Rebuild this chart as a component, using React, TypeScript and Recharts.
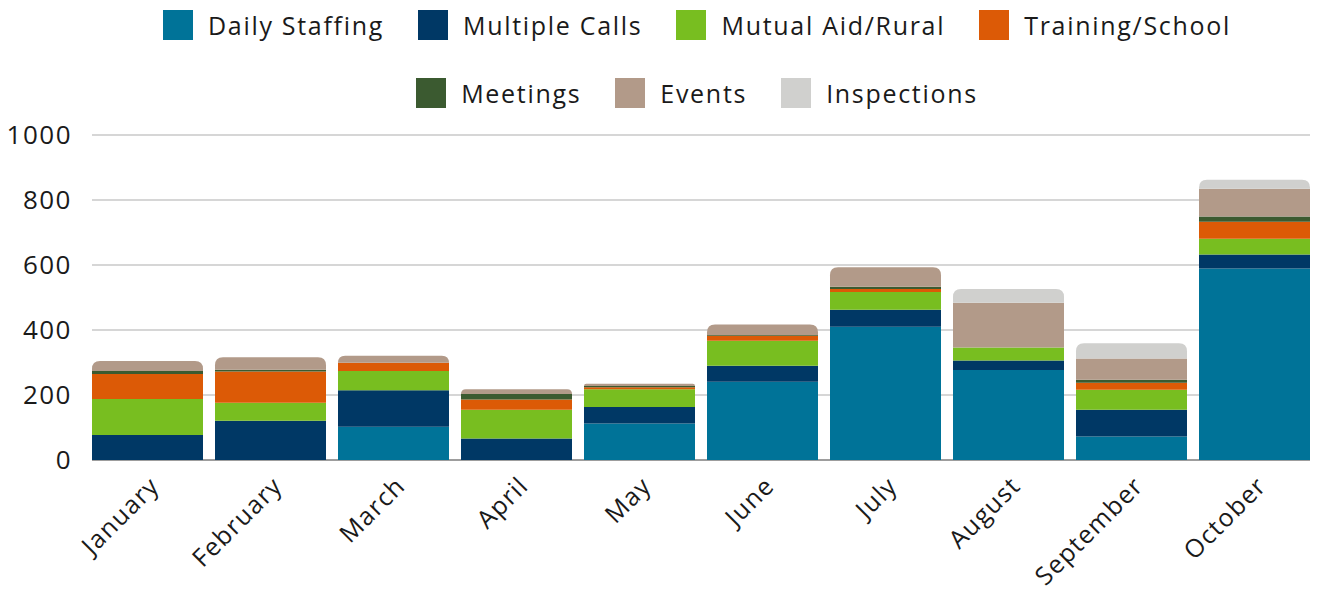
import React from 'react';
import { BarChart, Bar, XAxis, YAxis, CartesianGrid } from 'recharts';

const months = ['January', 'February', 'March', 'April', 'May', 'June', 'July', 'August', 'September', 'October'];

const dailyStaffing = [0, 0, 102, 0, 112, 241, 410, 277, 72, 589];
const multipleCalls = [77, 121, 113, 66, 51, 49, 52, 29, 83, 43];
const mutualAid = [111, 55, 59, 89, 55, 77, 55, 40, 61, 49];
const training = [77, 96, 25, 31, 6, 15, 9, 0, 22, 52];
const meetings = [9, 6, 0, 17, 4, 3, 7, 0, 9, 16];
const events = [31, 38, 22, 15, 7, 32, 60, 138, 65, 86];
const inspections = [0, 0, 0, 0, 0, 0, 0, 42, 47, 27];

const yTicks = [0, 200, 400, 600, 800, 1000];

const series = [
  { key: 'dailyStaffing', name: 'Daily Staffing', color: '#007398' },
  { key: 'multipleCalls', name: 'Multiple Calls', color: '#003865' },
  { key: 'mutualAid', name: 'Mutual Aid/Rural', color: '#78BE20' },
  { key: 'training', name: 'Training/School', color: '#DC5A06' },
  { key: 'meetings', name: 'Meetings', color: '#3B5A30' },
  { key: 'events', name: 'Events', color: '#B29A89' },
  { key: 'inspections', name: 'Inspections', color: '#D0D0CE' },
];

const data = months.map((month, i) => ({
  month,
  dailyStaffing: dailyStaffing[i],
  multipleCalls: multipleCalls[i],
  mutualAid: mutualAid[i],
  training: training[i],
  meetings: meetings[i],
  events: events[i],
  inspections: inspections[i],
}));

const FONT = '"Open Sans", sans-serif';
const EDGE = 6; // half of the gap between bars; the grid stops at the outer bar edges

// round the top corners only on the topmost non-empty segment of each stack
const makeShape = (idx: number) => (props: any) => {
  const { x, y, width, height, fill, payload } = props;
  if (!height || height <= 0) return <g />;
  const isTop = series.slice(idx + 1).every((s) => !payload[s.key]);
  const r = isTop ? Math.min(8, height) : 0;
  const d = `M${x},${y + height} L${x},${y + r} Q${x},${y} ${x + r},${y} L${x + width - r},${y} Q${x + width},${y} ${x + width},${y + r} L${x + width},${y + height} Z`;
  return <path d={d} fill={fill} />;
};

const gridLine = (props: any) => (
  <line
    key={`g-${props.y1}`}
    x1={props.x1 + EDGE}
    x2={props.x2 - EDGE}
    y1={props.y1}
    y2={props.y2}
    stroke="#c8c8c8"
    strokeWidth={1.5}
  />
);

const AxisBase = (props: any) => {
  const { x, y, width } = props;
  return <line x1={x + EDGE} x2={x + width - EDGE} y1={y} y2={y} stroke="#8a8a8a" strokeWidth={1.5} />;
};

const MonthTick = (props: any) => {
  const { x, y, payload } = props;
  return (
    <g transform={`translate(${x + 1},${y + 7})`}>
      <text
        transform="rotate(-45)"
        textAnchor="end"
        dy="0.7em"
        fill="#1a1a1a"
        fontSize={25}
        fontFamily={FONT}
        letterSpacing={1.3}
      >
        {payload.value}
      </text>
    </g>
  );
};

const LegendItem = ({ name, color }: { name: string; color: string }) => (
  <div style={{ display: 'flex', alignItems: 'center', margin: '0 17px' }}>
    <div style={{ width: 30, height: 30, background: color, marginRight: 15 }} />
    <span style={{ fontSize: 25, fontFamily: FONT, color: '#1a1a1a', letterSpacing: 1.7 }}>{name}</span>
  </div>
);

export default function App() {
  const rowOne = series.slice(0, 4);
  const rowTwo = series.slice(4);
  return (
    <div style={{ position: 'absolute', left: 0, top: 0, width: 1321, height: 590, background: '#fff' }}>
      <div style={{ position: 'absolute', left: 72, width: 1250, top: 8, display: 'flex', justifyContent: 'center' }}>
        {rowOne.map((s) => (
          <LegendItem key={s.key} name={s.name} color={s.color} />
        ))}
      </div>
      <div style={{ position: 'absolute', left: 72, width: 1250, top: 76, display: 'flex', justifyContent: 'center' }}>
        {rowTwo.map((s) => (
          <LegendItem key={s.key} name={s.name} color={s.color} />
        ))}
      </div>
      <BarChart
        width={1321}
        height={590}
        data={data}
        margin={{ top: 135, right: 5, left: 0, bottom: 0 }}
        barCategoryGap={EDGE}
      >
        <CartesianGrid vertical={false} horizontal={gridLine} />
        <XAxis
          dataKey="month"
          interval={0}
          height={130}
          tickLine={false}
          axisLine={false}
          tick={<MonthTick />}
        />
        <YAxis
          width={86}
          domain={[0, 1000]}
          ticks={yTicks}
          axisLine={false}
          tickLine={false}
          tickSize={0}
          tickMargin={14}
          tick={{ fill: '#1a1a1a', fontSize: 26, fontFamily: FONT, letterSpacing: 1.5 }}
        />
        {series.map((s, i) => (
          <Bar
            key={s.key}
            dataKey={s.key}
            name={s.name}
            stackId="a"
            fill={s.color}
            isAnimationActive={false}
            shape={makeShape(i)}
          />
        ))}
        <AxisBase x={86} y={460} width={1230} />
      </BarChart>
    </div>
  );
}
